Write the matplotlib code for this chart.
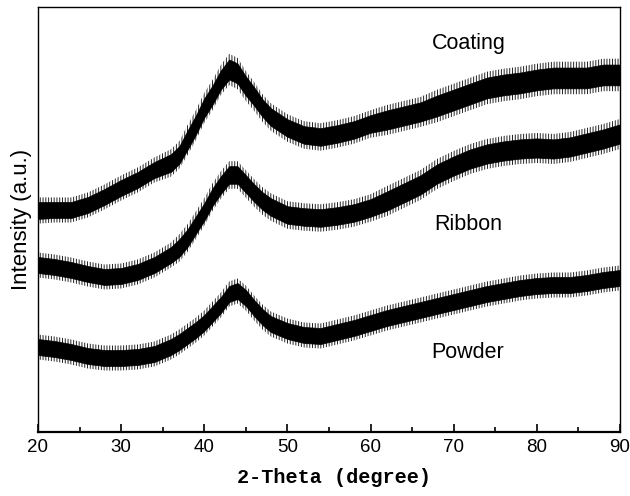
import matplotlib
matplotlib.use("Agg")
import matplotlib.pyplot as plt
import numpy as np
from matplotlib.ticker import MultipleLocator, NullLocator

# 2-theta positions where the traces were read (degree)
two_theta = [20, 22, 24, 26, 28, 30, 32, 34, 36, 37, 38, 39, 40, 41, 42, 43, 44,
             45, 46, 47, 48, 50, 52, 54, 56, 58, 60, 62, 64, 66, 68, 70, 72, 74,
             76, 78, 80, 82, 84, 86, 88, 90]

# noise envelope of each trace (a.u., upper / lower edge)
coating_hi = [232, 232, 232, 237, 245, 254, 262, 272, 280, 288, 304, 319, 336, 349,
              364, 375, 371, 358, 347, 335, 326, 315, 308, 306, 309, 313, 319, 324,
              328, 332, 339, 345, 351, 357, 360, 362, 365, 367, 367, 367, 370, 370]
coating_lo = [211, 212, 212, 217, 225, 234, 242, 252, 258, 266, 280, 295, 312, 325,
              340, 350, 346, 334, 324, 313, 304, 293, 286, 284, 287, 291, 297, 300,
              304, 308, 313, 319, 325, 331, 334, 336, 339, 341, 341, 341, 344, 344]

ribbon_hi = [177, 175, 172, 168, 165, 166, 170, 177, 187, 195, 205, 218, 231, 246,
             258, 268, 268, 259, 250, 242, 236, 228, 226, 225, 227, 230, 235, 243,
             251, 259, 270, 278, 285, 290, 293, 295, 296, 295, 297, 301, 305, 310]
ribbon_lo = [157, 155, 152, 148, 145, 146, 150, 157, 167, 173, 183, 196, 209, 224,
             236, 246, 246, 237, 228, 220, 214, 206, 204, 203, 205, 208, 213, 219,
             227, 235, 246, 254, 261, 266, 269, 271, 272, 271, 273, 277, 281, 286]

powder_hi = [95, 93, 90, 86, 84, 84, 85, 88, 95, 100, 106, 112, 119, 128, 137, 148,
             151, 144, 134, 125, 118, 111, 107, 106, 110, 114, 119, 124, 128, 132,
             136, 140, 144, 148, 151, 154, 156, 157, 157, 159, 162, 164]
powder_lo = [75, 73, 70, 66, 64, 64, 65, 68, 75, 80, 86, 92, 99, 108, 117, 128,
             131, 124, 114, 105, 98, 91, 87, 86, 90, 94, 99, 104, 108, 112, 116,
             120, 124, 128, 131, 134, 136, 137, 137, 139, 142, 144]

names = ["Coating", "Ribbon", "Powder"]
label_x = [71.8, 71.7, 71.7]
label_y = [388, 207, 80]

plt.rcParams["hatch.linewidth"] = 0.7

fig = plt.figure(figsize=(6.3, 4.96), dpi=100)
ax = fig.add_axes([0.0603, 0.129, 0.9237, 0.857])

for hi, lo in [(coating_hi, coating_lo), (ribbon_hi, ribbon_lo), (powder_hi, powder_lo)]:
    hi = np.array(hi, float)
    lo = np.array(lo, float)
    mid = (hi + lo) / 2
    half = (hi - lo) / 2
    # spiky fringe of the noisy trace
    ax.fill_between(two_theta, mid - 1.25 * half, mid + 1.25 * half,
                    facecolor="none", edgecolor="#222222", hatch="||||||", linewidth=0)
    # dense core of the trace
    ax.fill_between(two_theta, mid - 0.8 * half, mid + 0.8 * half,
                    color="black", linewidth=0.5)

for name, lx, ly in zip(names, label_x, label_y):
    ax.text(lx, ly, name, ha="center", va="center", fontsize=15.5,
            family="Liberation Sans")

ax.set_xlim(20, 90)
ax.set_ylim(0, 425)
ax.xaxis.set_major_locator(MultipleLocator(10))
ax.xaxis.set_minor_locator(MultipleLocator(5))
ax.yaxis.set_major_locator(NullLocator())
ax.tick_params(axis="x", which="both", direction="in", top=False)
ax.tick_params(axis="x", which="major", length=6, width=1.2, labelsize=13.5, pad=5)
ax.tick_params(axis="x", which="minor", length=3.5, width=1.2)
for lab in ax.get_xticklabels():
    lab.set_family("Liberation Sans")
for s in ax.spines.values():
    s.set_linewidth(1.0)
ax.spines["bottom"].set_linewidth(1.6)

ax.set_xlabel("2-Theta (degree)", family="Liberation Mono", fontweight="bold",
              fontsize=14.5, labelpad=6)
ax.xaxis.set_label_coords(0.508, -0.085)
ax.set_ylabel("Intensity (a.u.)", family="Liberation Sans", fontsize=16, labelpad=4)

fig.savefig("out.png", dpi=100)
